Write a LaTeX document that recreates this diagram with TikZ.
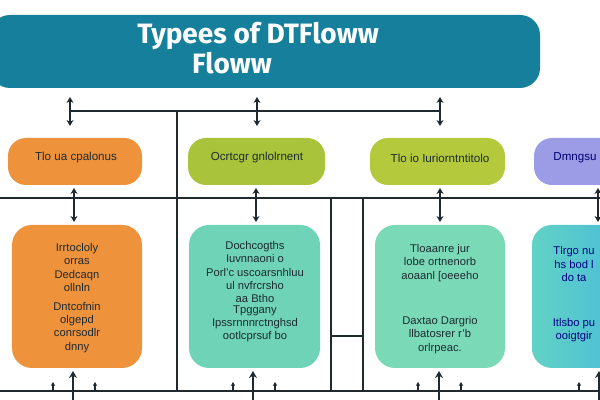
\documentclass[tikz,border=0pt]{standalone}
\usepackage{fontspec}
\setmainfont{Liberation Sans}
\newfontfamily\titlefont{Fira Sans}
\usetikzlibrary{arrows.meta}
\definecolor{titleteal}{HTML}{16809C}
\definecolor{orangebox}{HTML}{EE923B}
\definecolor{limebox}{HTML}{A9C43A}
\definecolor{limebox2}{HTML}{B4C93C}
\definecolor{lavbox}{HTML}{9C9CE6}
\definecolor{mintbox}{HTML}{6FD3B7}
\definecolor{mintbox2}{HTML}{7ADAB8}
\definecolor{cyanleft}{HTML}{62D2C6}
\definecolor{cyanright}{HTML}{45B9DA}
\definecolor{inkdark}{HTML}{1E2A30}
\tikzset{
  smalltxt/.style={font=\fontsize{5.8}{7}\selectfont, text=inkdark, align=center},
  bigtxt/.style={font=\fontsize{5.6}{6.6}\selectfont, text=inkdark, align=center},
  bus/.style={line width=0.7pt, draw=inkdark},
  dbl/.style={line width=1.1pt, draw=inkdark, {Stealth[length=3pt,width=3.5pt]}-{Stealth[length=3pt,width=3.5pt]}},
  uparrow/.style={line width=1.2pt, draw=inkdark, -{Stealth[length=3.5pt,width=4pt]}},
  tick/.style={line width=0.6pt, draw=inkdark, -{Stealth[length=2pt,width=2.2pt]}}
}
\begin{document}
\begin{tikzpicture}[x=0.5pt,y=-0.5pt]
\useasboundingbox (0,0) rectangle (600,400);
\clip (0,0) rectangle (600,400);
\fill[white] (0,0) rectangle (600,400);
% title
\fill[titleteal, rounded corners=10pt] (-10,15) rectangle (540,88);
\node (title) at (258,48) [font=\titlefont\fontseries{sb}\selectfont\fontsize{14}{16}\selectfont, text=white, align=center] {Typees of DTFloww\\[-1pt]\hspace*{-26pt}Floww};
% top bus
\coordinate (t1) at (70,111);
\coordinate (t2) at (257,111);
\coordinate (t3) at (440,111);
\draw[bus] (t1) -- (t3);
\draw[bus] (177,111) coordinate (v1top) -- (177,391) coordinate (v1bot);
\draw[dbl] (70,97) -- (70,126);
\draw[dbl] (257,97) -- (257,126);
\draw[dbl] (440,97) -- (440,126);
% small boxes
\fill[orangebox, rounded corners=9pt] (8,138) rectangle (142,185);
\node (s1) at (76,158) [smalltxt] {Tlo ua cpalonus};
\fill[limebox, rounded corners=9pt] (188,138) rectangle (325,185);
\node (s2) at (257,158) [smalltxt] {Ocrtcgr gnlolrnent};
\fill[limebox2, rounded corners=9pt] (370,138) rectangle (505,185);
\node (s3) at (440,158) [smalltxt] {Tlo io Iuriorntntitolo};
\fill[lavbox, rounded corners=9pt] (534,138) rectangle (640,185);
\node (s4) at (575,158) [smalltxt, text=blue!45!black] {Dmngsu};
% middle bus
\draw[bus] (0,198) coordinate (m0) -- (600,198) coordinate (m1);
\draw[bus] (331,198) -- (331,391);
\draw[bus] (363,198) -- (363,391);
\draw[bus] (331,336) -- (363,336);
\draw[dbl] (74,188) -- (74,222);
\draw[dbl] (256,188) -- (256,222);
\draw[dbl] (440,188) -- (440,222);
\draw[dbl] (598,188) -- (598,222);
% big boxes
\fill[orangebox, rounded corners=10pt] (12,225) rectangle (142,368);
\node (b1) at (77,298) [bigtxt] {Irrtocloly\\orras\\Dedcaqn\\ollnln\\[3pt]Dntcofnin\\olgepd\\conrsodlr\\dnny};
\fill[mintbox, rounded corners=10pt] (189,225) rectangle (320,368);
\node (b2a) at (255,272) [bigtxt] {Dochcogths\\Iuvnnaoni o\\Porl'c uscoarsnhluu\\ul nvfrcrsho\\aa Btho};
\node (b2b) at (255,324) [bigtxt] {Tpggany\\Ipssrnnnrctnghsd\\ootlcprsuf bo};
\fill[mintbox2, rounded corners=10pt] (375,225) rectangle (505,368);
\node (b3a) at (440,263) [bigtxt] {Tloaanre jur\\lobe ortnenorb\\aoaanl [oeeeho};
\node (b3b) at (440,335) [bigtxt] {Daxtao Dargrio\\llbatosrer r'b\\orlrpeac.};
\shade[left color=cyanleft, right color=cyanright, rounded corners=10pt] (532,225) rectangle (640,368);
\node (b4a) at (574,264) [bigtxt, text=blue!50!black] {Tlrgo nu\\hs bod l\\do ta};
\node (b4b) at (574,330) [bigtxt, text=blue!50!black] {Itlsbo pu\\ooigtgir};
% bottom bus
\draw[bus] (0,391) coordinate (bb0) -- (600,391) coordinate (bb1);
\draw[uparrow] (73,402) -- (73,371);
\draw[uparrow] (253,402) -- (253,371);
\draw[uparrow] (439,402) -- (439,371);
\draw[uparrow] (599,402) -- (599,371);
\foreach \x in {53,95,233,275,418,461,579} \draw[tick] (\x,391) -- (\x,382);
\end{tikzpicture}
\end{document}
